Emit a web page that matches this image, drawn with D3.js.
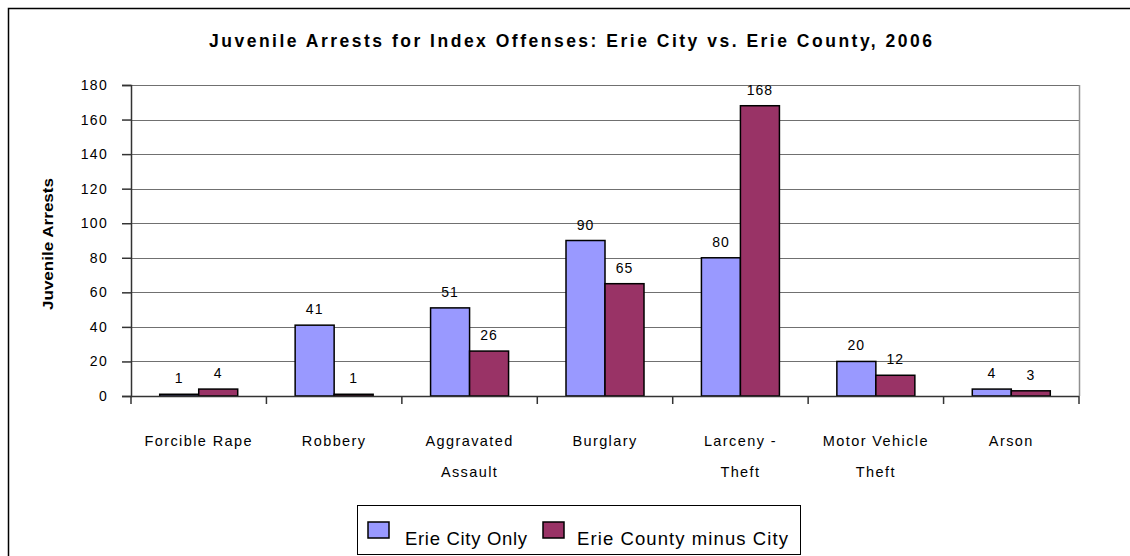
<!DOCTYPE html>
<html><head><meta charset="utf-8">
<script src="https://cdn.jsdelivr.net/npm/d3@7"></script>
<style>body{margin:0;background:#fff}svg{display:block}text{font-family:Arial,"Liberation Sans",sans-serif}</style>
</head><body><div id="chart"></div>
<script>
const categories = [["Forcible Rape"],["Robbery"],["Aggravated","Assault"],["Burglary"],["Larceny -","Theft"],["Motor Vehicle","Theft"],["Arson"]];
const seriesNames = ["Erie City Only","Erie County minus City"];
const cityValues = [1,41,51,90,80,20,4];
const countyValues = [4,1,26,65,168,12,3];
const yTicks = [0,20,40,60,80,100,120,140,160,180];
const colors = ["#9999FF","#993366"];

const W=1130,H=556;
const svg=d3.select("#chart").append("svg").attr("width",W).attr("height",H);
svg.append("rect").attr("x",8.5).attr("y",8.5).attr("width",W).attr("height",H).attr("fill","none").attr("stroke","#000").attr("stroke-width",1.5);

const L=131,R=1079,T=85,B=396;
const x=d3.scaleBand().domain(d3.range(categories.length)).range([L,R]).paddingInner(0).paddingOuter(0);
const y=d3.scaleLinear().domain([0,180]).range([B,T]);
const bw=39;

// gridlines
svg.append("g").selectAll("line").data(yTicks.filter(d=>d>0)).join("line")
 .attr("x1",L).attr("x2",R).attr("y1",d=>Math.round(y(d))+0.5).attr("y2",d=>Math.round(y(d))+0.5)
 .attr("stroke","#707070").attr("stroke-width",1);
svg.append("line").attr("x1",R+0.5).attr("x2",R+0.5).attr("y1",T).attr("y2",B).attr("stroke","#909090").attr("stroke-width",1.5);

// bars
const data=[cityValues,countyValues];
data.forEach((vals,si)=>{
  svg.append("g").selectAll("rect").data(vals).join("rect")
   .attr("x",(d,i)=>x(i)+x.bandwidth()/2-bw+si*bw)
   .attr("y",d=>y(d)).attr("width",bw).attr("height",d=>B-y(d))
   .attr("fill",colors[si]).attr("stroke","#000").attr("stroke-width",1.5);
  svg.append("g").selectAll("text").data(vals).join("text")
   .attr("x",(d,i)=>x(i)+x.bandwidth()/2-bw/2+si*bw)
   .attr("y",d=>y(d)-11).attr("text-anchor","middle").attr("font-size",14).attr("letter-spacing",1).attr("fill","#000").text(d=>d);
});

// y axis
const ya=svg.append("g").attr("transform",`translate(${L},0)`).call(d3.axisLeft(y).tickValues(yTicks).tickSize(9).tickPadding(14));
ya.selectAll("text").attr("font-size",14).attr("letter-spacing",1.3).attr("fill","#000").style("font-family","Arial,'Liberation Sans',sans-serif");
ya.selectAll("line,path").attr("stroke","#333").attr("stroke-width",1.5);

// x axis
const xa=svg.append("g").attr("transform",`translate(0,${B})`);
xa.append("line").attr("x1",L).attr("x2",R).attr("y1",0.5).attr("y2",0.5).attr("stroke","#333").attr("stroke-width",1.5);
const bounds=d3.range(categories.length+1).map(i=>i<categories.length?x(i):R);
xa.selectAll("line.t").data(bounds).join("line").attr("class","t").attr("x1",d=>d).attr("x2",d=>d).attr("y1",0).attr("y2",8).attr("stroke","#333").attr("stroke-width",1.5);
xa.selectAll("text.c").data(categories).join("text").attr("class","c")
 .attr("text-anchor","middle").attr("font-size",14.5).attr("letter-spacing",1.4)
 .each(function(d,i){
   const t=d3.select(this);
   d.forEach((line,j)=>t.append("tspan").attr("x",x(i)+x.bandwidth()/2).attr("y",50+j*31).text(line));
 });

// title
svg.append("text").attr("x",209).attr("y",47).attr("font-size",17.5).attr("font-weight","bold")
 .attr("textLength",723).attr("lengthAdjust","spacing")
 .text("Juvenile Arrests for Index Offenses: Erie City vs. Erie County, 2006");
// y title
svg.append("text").attr("transform",`translate(53,310) rotate(-90)`).attr("font-size",15).attr("font-weight","bold")
 .attr("textLength",132).attr("lengthAdjust","spacingAndGlyphs")
 .text("Juvenile Arrests");

// legend
const lg=svg.append("g");
lg.append("rect").attr("x",357.5).attr("y",505.5).attr("width",443).attr("height",49).attr("fill","#fff").attr("stroke","#000").attr("stroke-width",1);
const lx=[368,543], tx=[405,577], tl=[122,211];
seriesNames.forEach((n,i)=>{
  lg.append("rect").attr("x",lx[i]).attr("y",522).attr("width",21).attr("height",16).attr("fill",colors[i]).attr("stroke","#000").attr("stroke-width",1.5);
  lg.append("text").attr("x",tx[i]).attr("y",545).attr("font-size",18.5).attr("textLength",tl[i]).attr("lengthAdjust","spacing").text(n);
});
</script></body></html>
